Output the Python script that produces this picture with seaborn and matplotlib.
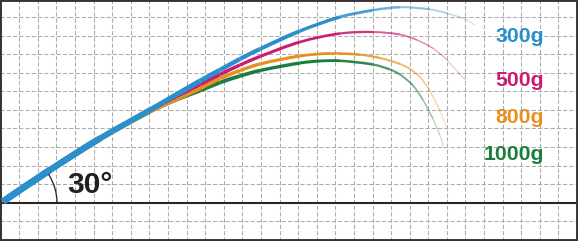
import numpy as np
import matplotlib
matplotlib.use("Agg")
import matplotlib.pyplot as plt
import seaborn as sns
from matplotlib.patches import Arc, PathPatch
from matplotlib.path import Path
from matplotlib.colors import to_rgba

# ---- data (distance / height) ----
labels = ["300g", "500g", "800g", "1000g"]
colors = ["#2b8fcc", "#cb1a72", "#e8901e", "#1b7d3d"]

x_300 = [3, 50, 100, 150, 200, 220, 240, 260, 300, 340, 373, 400, 430, 447, 463, 475]
h_300 = [1.5, 33, 64.5, 93, 122, 133, 144, 154, 172, 186, 192.8, 195.8, 193.7, 189.7, 184.7, 178]

x_500 = [3, 50, 100, 150, 175, 200, 220, 240, 260, 300, 340, 373, 400, 417, 433, 447, 465]
h_500 = [1.5, 33, 64.5, 93, 106, 118.5, 128.5, 138, 146.5, 161, 169.5, 171, 168.5, 163, 154.7, 143, 123]

x_800 = [3, 50, 100, 150, 175, 200, 220, 240, 260, 300, 330, 360, 380, 400, 410, 420, 430, 440, 447.5]
h_800 = [1.5, 32.5, 64, 91.5, 103, 114.5, 124.5, 132.5, 139, 147, 149.5, 148.3, 145, 139, 134, 126, 112, 92, 72]

x_1000 = [3, 50, 100, 150, 175, 200, 220, 240, 260, 300, 320, 340, 373, 390, 400, 413, 423, 433, 440, 444]
h_1000 = [1.5, 33.5, 65, 92, 103, 112.5, 120.5, 127, 132.5, 140, 142, 142.2, 138.5, 133.5, 128.5, 117.5, 103, 84, 67.5, 54.5]

angle_label = "30°"

series = [(x_300, h_300), (x_500, h_500), (x_800, h_800), (x_1000, h_1000)]
start_w = [7.2, 5.6, 5.6, 6.0]
end_w = [0.9, 0.7, 0.8, 0.8]
label_h = [161.3, 117.3, 79.7, 43.0]

# ---- style ----
sns.set_style("white")
plt.rcParams["font.family"] = ["Liberation Sans", "DejaVu Sans"]

fig = plt.figure(figsize=(5.78, 2.41), dpi=100)
ax = fig.add_axes([0, 0, 1, 1])
ax.set_xlim(0, 578)
ax.set_ylim(-38, 203)

ax.set_xticks(np.arange(0.7, 578, 18.59))
ax.set_yticks(np.arange(0.3 - 18.57 * 2, 203, 18.57))
ax.tick_params(length=0, labelbottom=False, labelleft=False)
ax.grid(True, color="#ababab", lw=0.75, ls=(0, (4, 2)))
ax.set_axisbelow(True)
for s in ax.spines.values():
    s.set_color("#3a3232")
    s.set_linewidth(2.8)
    s.set_visible(True)

ax.axhline(0, color="#2a2424", lw=1.5, zorder=2)

PX2PT = 72.0 / fig.dpi


def taper(xs, hs, color, w0, w1, z):
    pts = np.column_stack([xs, hs]).astype(float)
    n = len(pts)
    d = np.zeros_like(pts)
    for i in range(n):
        a = pts[max(i - 1, 0)]
        b = pts[min(i + 1, n - 1)]
        v = b - a
        d[i] = v / np.linalg.norm(v)
    seg = np.linalg.norm(np.diff(pts, axis=0), axis=1)
    s = np.concatenate([[0], np.cumsum(seg)])
    t = s / s[-1]
    base = to_rgba(color)
    for i in range(n - 1):
        L = seg[i]
        p0, p3 = pts[i], pts[i + 1]
        p1 = p0 + d[i] * L / 3
        p2 = p3 - d[i + 1] * L / 3
        tm = (t[i] + t[i + 1]) / 2
        w = w1 + (w0 - w1) * (1 - tm) ** 0.8
        a = 1.0 if tm < 0.72 else 1.0 - 0.85 * (tm - 0.72) / 0.28
        path = Path([p0, p1, p2, p3], [Path.MOVETO, Path.CURVE4, Path.CURVE4, Path.CURVE4])
        ax.add_patch(PathPatch(path, fill=False, lw=w * PX2PT,
                               edgecolor=(base[0], base[1], base[2], a),
                               capstyle="butt", joinstyle="round", zorder=z))


order = [3, 2, 1, 0]
for k, i in enumerate(order):
    xs, hs = series[i]
    sns.lineplot(x=xs, y=hs, ax=ax, color=colors[i], lw=0.4, alpha=0.15,
                 sort=False, estimator=None, zorder=3 + k)
    taper(xs, hs, colors[i], start_w[i], end_w[i], 3 + k)

for i, lab in enumerate(labels):
    ax.text(543.7, label_h[i], lab, color=colors[i], fontsize=15.3,
            fontweight="bold", ha="right", va="baseline")

ax.add_patch(Arc((4, 0), 106, 106, theta1=0, theta2=33, color="#231f20", lw=0.9, zorder=8))
ax.text(67, 10, angle_label, color="#231f20", fontsize=21.5, fontweight="bold",
        ha="left", va="baseline", zorder=9)

fig.savefig("out.png", dpi=100)
